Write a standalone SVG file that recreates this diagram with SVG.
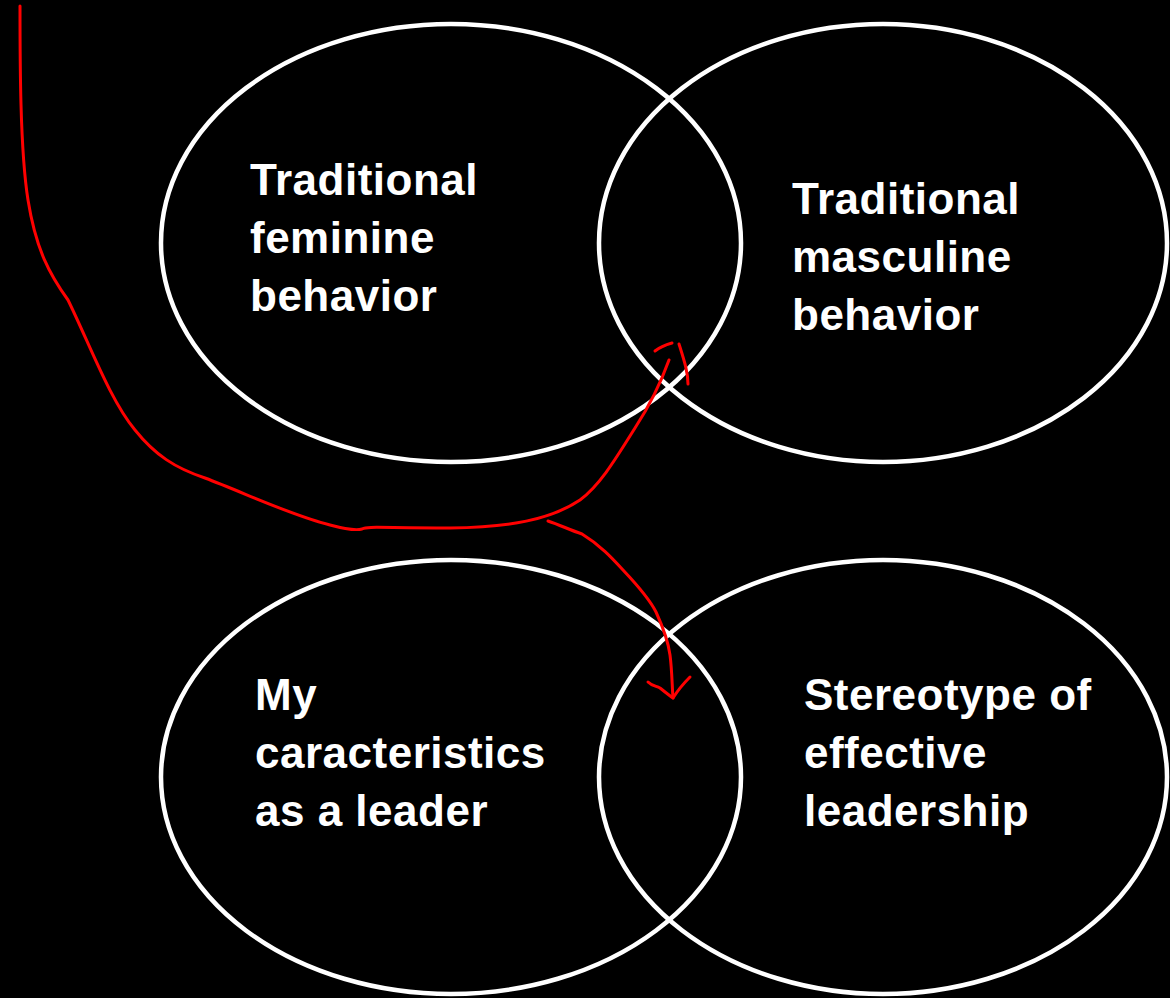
<svg xmlns="http://www.w3.org/2000/svg" width="1170" height="998" viewBox="0 0 1170 998">
<style>
.ell{fill:none;stroke:#fff;stroke-width:4.5}
.lbl{fill:#fff;font-family:"Liberation Sans",Arial,sans-serif;font-weight:bold;font-size:44px;letter-spacing:0.5px}
.red{fill:none;stroke:#f00;stroke-width:3;stroke-linecap:round;stroke-linejoin:round}
</style>
<rect x="0" y="0" width="1170" height="998" fill="#000"/>
<g id="fem">
<ellipse class="ell" cx="451" cy="243" rx="290" ry="219"/>
<text class="lbl"><tspan x="250" y="195">Traditional</tspan><tspan x="250" y="253">feminine</tspan><tspan x="250" y="311">behavior</tspan></text>
</g>
<g id="masc">
<ellipse class="ell" cx="883" cy="243" rx="284" ry="219"/>
<text class="lbl"><tspan x="792" y="214">Traditional</tspan><tspan x="792" y="272">masculine</tspan><tspan x="792" y="330">behavior</tspan></text>
</g>
<g id="mine">
<ellipse class="ell" cx="451" cy="777" rx="290" ry="217"/>
<text class="lbl"><tspan x="255" y="710">My</tspan><tspan x="255" y="768">caracteristics</tspan><tspan x="255" y="826">as a leader</tspan></text>
</g>
<g id="stereo">
<ellipse class="ell" cx="883" cy="777" rx="284" ry="217"/>
<text class="lbl"><tspan x="804" y="710">Stereotype of</tspan><tspan x="804" y="768">effective</tspan><tspan x="804" y="826">leadership</tspan></text>
</g>
<g id="connectors">
<path class="red" d="M20,6 C20,60 20,150 28,200 C36,250 50,275 68,300 C90,345 110,400 135,430 C155,455 175,468 205,478 C245,493 290,515 330,525 C345,529 355,531 362,529 C368,526 380,528 450,528 C510,527 550,520 580,500 C600,485 615,460 635,428 C650,405 660,385 669,360"/>
<path class="red" d="M655,351 C660,347 665,345 672,343 M679,344 C684,360 688,372 688,384"/>
<path class="red" d="M548,521 C560,525 570,530 582,534 C600,545 612,558 623,570 C640,588 650,600 656,612 C662,625 668,640 670,655 C672,670 672,685 673,698"/>
<path class="red" d="M648,682 C652,686 656,686 660,688 C665,692 670,696 673,698 C678,690 684,683 690,677"/>
</g>
</svg>
